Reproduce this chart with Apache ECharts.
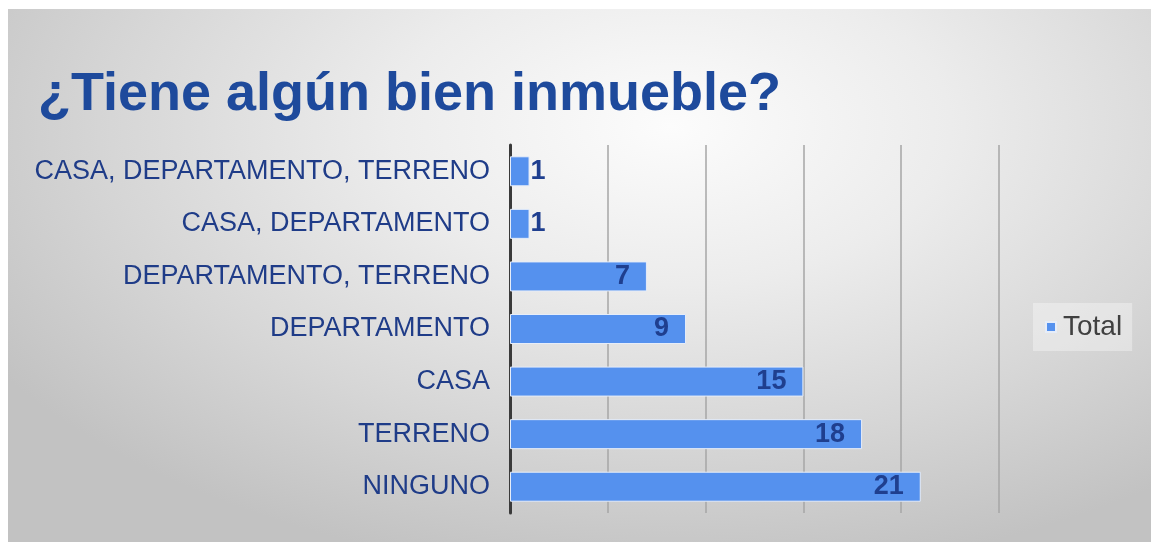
<!DOCTYPE html>
<html>
<head>
<meta charset="utf-8">
<script src="https://cdn.jsdelivr.net/npm/echarts@6/dist/echarts.min.js"></script>
<style>
  html, body { margin: 0; padding: 0; background: #ffffff; }
  #chart {
    position: absolute; left: 8px; top: 9px; width: 1143px; height: 533px;
    background: radial-gradient(ellipse 70% 85% at 58% 22%, #fcfcfc 0%, #ececec 35%, #d6d6d6 70%, #c2c2c2 100%);
  }
</style>
</head>
<body>
<div id="chart"></div>
<script>
const titleText = '¿Tiene algún bien inmueble?';
const categories = [
  'CASA, DEPARTAMENTO, TERRENO',
  'CASA, DEPARTAMENTO',
  'DEPARTAMENTO, TERRENO',
  'DEPARTAMENTO',
  'CASA',
  'TERRENO',
  'NINGUNO'
];
const totals = [1, 1, 7, 9, 15, 18, 21];
const seriesName = 'Total';
const axisMax = 25;
const axisInterval = 5;

const chart = echarts.init(document.getElementById('chart'), null, { renderer: 'canvas' });
const font = '"Liberation Sans", Arial, sans-serif';

chart.setOption({
  backgroundColor: 'transparent',
  animation: false,
  title: {
    text: titleText,
    left: 30,
    top: 59,
    padding: 0,
    textStyle: { fontFamily: font, fontSize: 54, fontWeight: 'bold', color: '#1e4a9c' }
  },
  legend: {
    data: [seriesName],
    left: 1025,
    top: 294,
    padding: [10, 10, 10, 12],
    backgroundColor: 'rgba(255,255,255,0.35)',
    itemWidth: 10,
    itemHeight: 10,
    icon: 'rect',
    textStyle: { fontFamily: font, fontSize: 28, color: '#404040', padding: [0, 0, 0, 2] }
  },
  grid: { left: 502, right: 152, top: 136, bottom: 29, containLabel: false },
  xAxis: {
    type: 'value',
    min: 0,
    max: axisMax,
    interval: axisInterval,
    axisLabel: { show: false },
    axisLine: { show: false },
    axisTick: { show: false },
    splitLine: { show: true, lineStyle: { color: '#a6a6a6', width: 1.5 } }
  },
  yAxis: {
    type: 'category',
    data: categories,
    inverse: true,
    axisLine: { show: true, lineStyle: { color: '#3a3a3a', width: 3 } },
    axisTick: { show: false },
    axisLabel: { fontFamily: font, fontSize: 27, color: '#1f3c88', margin: 20 }
  },
  series: [{
    name: seriesName,
    type: 'bar',
    barWidth: 30,
    itemStyle: { color: '#5591ee', borderColor: '#e6edf9', borderWidth: 1 },
    label: {
      show: true,
      fontFamily: font,
      fontSize: 27,
      fontWeight: 'bold',
      color: '#1f3f8f'
    },
    data: totals.map(v => ({
      value: v,
      label: v < 2 ? { position: 'right', distance: 1 } : { position: 'insideRight', distance: 17 }
    }))
  }]
});
</script>
</body>
</html>
